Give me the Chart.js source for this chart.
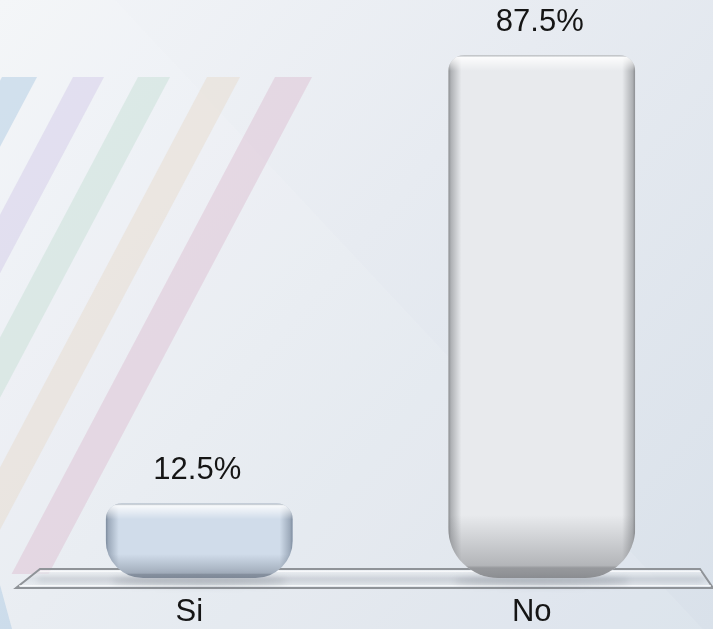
<!DOCTYPE html>
<html>
<head>
<meta charset="utf-8">
<script src="https://cdn.jsdelivr.net/npm/chart.js@4.4.1/dist/chart.umd.min.js"></script>
<style>
  html, body { margin: 0; padding: 0; background: #e6ebf1; overflow: hidden; }
  #wrap { position: relative; width: 713px; height: 629px; }
</style>
</head>
<body>
<div id="wrap"><canvas id="chart"></canvas></div>
<script>
  const categories = ["Si", "No"];
  const shares = [12.5, 87.5];
  const axisMax = 96.7;

  const FONT = "'Liberation Sans', Arial, sans-serif";
  const TEXT = "#151515";

  // per-bar look: base fill, side shade, foot shade
  const barBody = ["#d0dcea", "#e8eaed"];
  const barEdge = ["rgba(95,110,130,", "rgba(105,108,112,"];
  const barFoot = ["rgba(105,115,130,", "rgba(115,117,121,"];

  const backdrop = {
    id: "backdrop",
    beforeDraw(chart) {
      const { ctx, width, height } = chart;
      ctx.save();
      const g = ctx.createLinearGradient(0, 0, width, height);
      g.addColorStop(0, "#f3f5f8");
      g.addColorStop(0.45, "#e7ebf1");
      g.addColorStop(1, "#d9e1ea");
      ctx.fillStyle = g;
      ctx.fillRect(0, 0, width, height);

      // faint glassy sheet with a slanted edge
      ctx.beginPath();
      ctx.moveTo(0, 0);
      ctx.lineTo(115, 0);
      ctx.lineTo(713, 640);
      ctx.lineTo(0, 640);
      ctx.closePath();
      ctx.fillStyle = "rgba(255,255,255,0.10)";
      ctx.fill();

      // pale slanted ribbons on the left
      const ribbons = [
        { x: 2, w: 35, c: "rgba(175,203,228,0.5)" },
        { x: 73, w: 31, c: "rgba(208,200,230,0.45)" },
        { x: 138, w: 32, c: "rgba(196,222,210,0.45)" },
        { x: 207, w: 33, c: "rgba(232,220,205,0.5)" },
        { x: 275, w: 37, c: "rgba(222,196,214,0.55)" },
      ];
      const top = 77, bottom = 574, slope = 0.53;
      ctx.save();
      ctx.beginPath();
      ctx.rect(0, 0, width, bottom);
      ctx.clip();
      ribbons.forEach((r) => {
        const dx = slope * (bottom - top);
        ctx.beginPath();
        ctx.moveTo(r.x, top);
        ctx.lineTo(r.x + r.w, top);
        ctx.lineTo(r.x + r.w - dx, bottom);
        ctx.lineTo(r.x - dx, bottom);
        ctx.closePath();
        ctx.fillStyle = r.c;
        ctx.fill();
      });
      ctx.restore();

      // small blue corner piece under the floor
      ctx.beginPath();
      ctx.moveTo(0, 585);
      ctx.lineTo(12, 629);
      ctx.lineTo(0, 629);
      ctx.closePath();
      ctx.fillStyle = "rgba(175,203,228,0.5)";
      ctx.fill();
      ctx.restore();
    },
  };

  const floor = {
    id: "floor",
    beforeDatasetsDraw(chart) {
      const { ctx, chartArea } = chart;
      const b = chartArea.bottom;
      const t = b - 9, d = b + 10;
      const l = chartArea.left, r = chartArea.right;
      ctx.save();
      ctx.beginPath();
      ctx.moveTo(l + 12, t);
      ctx.lineTo(r - 13, t);
      ctx.lineTo(r, d);
      ctx.lineTo(l - 12, d);
      ctx.closePath();
      const g = ctx.createLinearGradient(0, t, 0, d);
      g.addColorStop(0, "rgba(250,251,252,0.55)");
      g.addColorStop(0.5, "rgba(210,216,223,0.55)");
      g.addColorStop(1, "rgba(238,241,244,0.6)");
      ctx.fillStyle = g;
      ctx.fill();

      // blurred streak along the middle of the plate
      ctx.save();
      ctx.filter = "blur(3px)";
      ctx.beginPath();
      ctx.moveTo(l + 10, b + 2);
      ctx.lineTo(r - 10, b + 2);
      ctx.strokeStyle = "rgba(140,146,155,0.35)";
      ctx.lineWidth = 4;
      ctx.stroke();
      ctx.restore();

      ctx.beginPath();
      ctx.moveTo(l + 12, t);
      ctx.lineTo(r - 13, t);
      ctx.lineTo(r, d);
      ctx.lineTo(l - 12, d);
      ctx.closePath();
      ctx.strokeStyle = "#8f9398";
      ctx.lineWidth = 2;
      ctx.stroke();

      ctx.beginPath();
      ctx.moveTo(l - 9, d - 2.5);
      ctx.lineTo(r - 2, d - 2.5);
      ctx.strokeStyle = "rgba(255,255,255,0.7)";
      ctx.lineWidth = 1;
      ctx.stroke();
      ctx.beginPath();
      ctx.moveTo(l + 12, t + 2.5);
      ctx.lineTo(r - 12, t + 2.5);
      ctx.strokeStyle = "rgba(255,255,255,0.6)";
      ctx.stroke();
      ctx.restore();
    },
  };

  function shadeBar(ctx, el, i) {
    const { x, y, base, width } = el.getProps(["x", "y", "base", "width"], true);
    const left = x - width / 2;
    const h = base - y;
    const rTop = Math.min(16, width / 2, h / 2);
    const rBot = Math.min(50, width / 2, h / 2);
    ctx.save();

    // soft contact shadow on the floor
    ctx.beginPath();
    ctx.ellipse(x, base + 3, width / 2 - 6, 5, 0, 0, Math.PI * 2);
    ctx.fillStyle = "rgba(110,115,125,0.3)";
    ctx.filter = "blur(3px)";
    ctx.fill();
    ctx.filter = "none";

    ctx.beginPath();
    ctx.roundRect(left, y, width, h, [rTop, rTop, rBot, rBot]);
    ctx.clip();

    const side = ctx.createLinearGradient(left, 0, left + width, 0);
    side.addColorStop(0, barEdge[i] + "0.75)");
    side.addColorStop(0.015, barEdge[i] + "0.45)");
    side.addColorStop(0.07, barEdge[i] + "0)");
    side.addColorStop(0.93, barEdge[i] + "0)");
    side.addColorStop(0.985, barEdge[i] + "0.45)");
    side.addColorStop(1, barEdge[i] + "0.75)");
    ctx.fillStyle = side;
    ctx.fillRect(left, y, width, h);

    const rim = ctx.createLinearGradient(0, y, 0, y + 16);
    rim.addColorStop(0, "rgba(140,145,150,0.45)");
    rim.addColorStop(0.15, "rgba(255,255,255,0.85)");
    rim.addColorStop(1, "rgba(255,255,255,0)");
    ctx.fillStyle = rim;
    ctx.fillRect(left, y, width, 16);

    const footH = Math.min(63, h * 0.32);
    const foot = ctx.createLinearGradient(0, base - footH, 0, base);
    foot.addColorStop(0, barFoot[i] + "0)");
    foot.addColorStop(0.8, barFoot[i] + "0.45)");
    foot.addColorStop(0.84, barFoot[i] + "0.7)");
    foot.addColorStop(1, barFoot[i] + "0.75)");
    ctx.fillStyle = foot;
    ctx.fillRect(left, base - footH, width, footH);
    ctx.restore();
  }

  const barShading = {
    id: "barShading",
    afterDatasetsDraw(chart) {
      const meta = chart.getDatasetMeta(0);
      meta.data.forEach((el, i) => shadeBar(chart.ctx, el, i));
    },
  };

  const valueLabels = {
    id: "valueLabels",
    afterDatasetsDraw(chart) {
      const { ctx } = chart;
      const meta = chart.getDatasetMeta(0);
      ctx.save();
      ctx.font = `31px ${FONT}`;
      ctx.fillStyle = TEXT;
      ctx.textAlign = "center";
      ctx.textBaseline = "middle";
      meta.data.forEach((el, i) => {
        const { x, y } = el.getProps(["x", "y"], true);
        ctx.fillText(`${shares[i].toFixed(1)}%`, x - 2, y - 33);
      });
      ctx.restore();
    },
  };

  new Chart(document.getElementById("chart"), {
    type: "bar",
    data: {
      labels: categories,
      datasets: [
        {
          data: shares,
          backgroundColor: barBody,
          borderWidth: 0,
          borderSkipped: false,
          borderRadius: { topLeft: 16, topRight: 16, bottomLeft: 50, bottomRight: 50 },
          barPercentage: 0.546,
          categoryPercentage: 1,
        },
      ],
    },
    options: {
      responsive: true,
      maintainAspectRatio: false,
      animation: false,
      layout: { padding: { left: 28, right: 0, top: 0, bottom: 0 } },
      plugins: {
        legend: { display: false },
        tooltip: { enabled: false },
      },
      scales: {
        x: {
          grid: { display: false, drawTicks: false },
          border: { display: false },
          ticks: {
            color: TEXT,
            font: { family: FONT, size: 31 },
            padding: 16,
            labelOffset: -10,
          },
          afterFit(scale) {
            scale.height = 51;
          },
        },
        y: { display: false, min: 0, max: axisMax },
      },
    },
    plugins: [backdrop, floor, barShading, valueLabels],
  });
</script>
</body>
</html>
